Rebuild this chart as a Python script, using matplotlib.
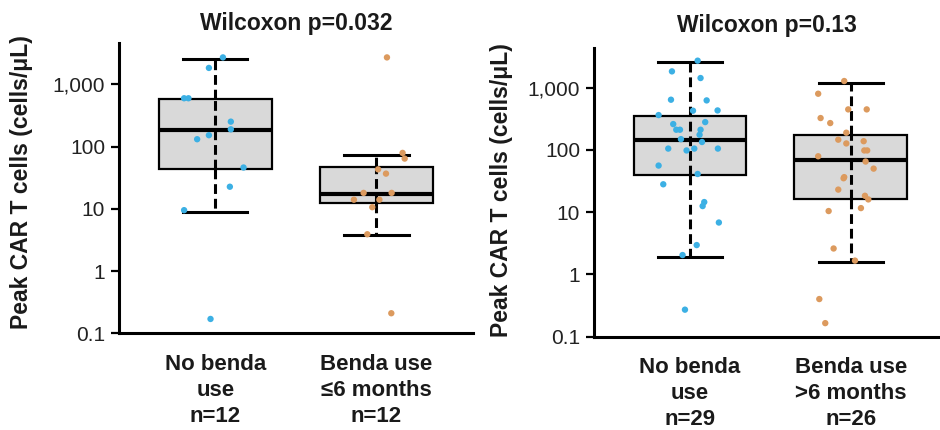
import numpy as np
import matplotlib.pyplot as plt
from matplotlib.ticker import FixedLocator, NullLocator

plt.rcParams['font.family'] = ['Liberation Sans', 'DejaVu Sans']

# values (cells/uL)
left_blue = [2700, 1830, 596, 596, 251, 189, 131, 152, 46, 22.6, 9.5, 0.17]
left_blue_jit = [0.048, -0.039, -0.193, -0.166, 0.097, 0.097, -0.112, -0.039, 0.176, 0.091, -0.193, -0.029]
left_orange = [2700, 79, 64, 43, 36.7, 18, 18, 14, 14, 10.6, 3.9, 0.21]
left_orange_jit = [0.066, 0.163, 0.176, 0.011, 0.060, -0.079, 0.095, -0.139, 0.019, -0.025, -0.056, 0.093]

right_blue = [2720, 1830, 1430, 641, 625, 427, 431, 363, 260, 280, 211, 211, 211, 175, 149,
              134, 105, 98, 105, 105, 56, 41, 28, 14.5, 12.5, 6.8, 2.95, 2.04, 0.27]
right_blue_jit = [0.048, -0.112, 0.066, -0.118, 0.104, 0.019, 0.172, -0.195, -0.104, 0.095, -0.085, -0.062, 0.066, 0.060, -0.056,
                  0.075, -0.135, -0.021, 0.027, 0.174, -0.195, 0.048, -0.166, 0.089, 0.079, 0.180, 0.042, -0.046, -0.031]
right_orange = [1280, 800, 448, 448, 325, 270, 189, 146, 138, 127, 98, 98, 79, 65, 50,
                36.5, 35, 23, 18.3, 16, 11.6, 10.4, 2.6, 1.66, 0.40, 0.164]
right_orange_jit = [-0.040, -0.202, -0.015, 0.100, -0.187, -0.127, -0.027, -0.077, 0.081, -0.027, 0.085, 0.103, -0.202, 0.093, 0.143,
                    -0.040, -0.044, -0.077, 0.089, 0.110, 0.064, -0.137, -0.106, 0.027, -0.195, -0.158]

# box stats: whislo, q1, med, q3, whishi
left_boxes = [[8.9, 44, 185, 574, 2580], [3.8, 12.5, 17.3, 46.5, 72]]
right_boxes = [[1.87, 40, 142, 345, 2580], [1.57, 16, 68.5, 173, 1200]]

titles = ["Wilcoxon p=0.032", "Wilcoxon p=0.13"]
left_labels = ["No benda\nuse\nn=12", "Benda use\n≤6 months\nn=12"]
right_labels = ["No benda\nuse\nn=29", "Benda use\n>6 months\nn=26"]
yticks = [0.1, 1, 10, 100, 1000]
yticklabels = ["0.1", "1", "10", "100", "1,000"]

blue = '#3cb0e4'
orange = '#dc9a5e'

fig = plt.figure(figsize=(9.4, 4.3), dpi=100)
ax1 = fig.add_axes([119/940, 1-333.3/430, 354/940, 290.3/430])
ax2 = fig.add_axes([594/940, 1-336.5/430, 346/940, 288.2/430])


def draw(ax, boxes, pts, jits, labels, title, ytop, tpad, labx, laby):
    stats = []
    for b in boxes:
        stats.append(dict(whislo=b[0], q1=b[1], med=b[2], q3=b[3], whishi=b[4]))
    ax.bxp(stats, positions=[1, 2], widths=0.7, showfliers=False, patch_artist=True,
           boxprops=dict(facecolor='#d9d9d9', edgecolor='black', linewidth=1.6),
           medianprops=dict(color='black', linewidth=3),
           whiskerprops=dict(color='black', linewidth=2.2, linestyle=(0, (3.2, 1.6))),
           capprops=dict(color='black', linewidth=2.2), capwidths=0.4)
    for i, b in enumerate(boxes):
        ax.plot([i+1, i+1], [b[1], b[3]], color='black', lw=2.2, ls=(0, (3.2, 1.6)), zorder=3)
    cols = [blue, orange]
    for i in range(2):
        x = np.array(jits[i]) + i + 1
        ax.scatter(x, pts[i], s=21, color=cols[i], edgecolors='none', zorder=5)
    ax.set_yscale('log')
    ax.set_ylim(0.1, ytop)
    ax.set_xlim(0.403, 2.6)
    ax.yaxis.set_major_locator(FixedLocator(yticks))
    ax.yaxis.set_minor_locator(NullLocator())
    ax.set_yticklabels(yticklabels, fontsize=15, color='#222222')
    ax.set_xticks([1, 2])
    ax.set_xticklabels(labels, fontsize=16, fontweight='bold', color='#1a1a1a', linespacing=1.3)
    ax.tick_params(axis='x', length=0, pad=15)
    ax.tick_params(axis='y', length=6, width=1.6, pad=4)
    for s in ['top', 'right']:
        ax.spines[s].set_visible(False)
    for s in ['left', 'bottom']:
        ax.spines[s].set_linewidth(2.2)
    ax.set_ylabel("Peak CAR T cells (cells/μL)", fontsize=16.5, fontweight='bold', color='#1a1a1a')
    ax.yaxis.set_label_coords(labx, laby)
    ax.set_title(title, fontsize=16.5, fontweight='bold', color='#1a1a1a', pad=tpad)


draw(ax1, left_boxes, [left_blue, left_orange], [left_blue_jit, left_orange_jit],
     left_labels, titles[0], 4600, 9.5, -0.243, 0.52)
draw(ax2, right_boxes, [right_blue, right_orange], [right_blue_jit, right_orange_jit],
     right_labels, titles[1], 4300, 11.5, -0.234, 0.508)
ax2.set_xlim(0.403, 2.556)

fig.savefig('out.png', dpi=100)
